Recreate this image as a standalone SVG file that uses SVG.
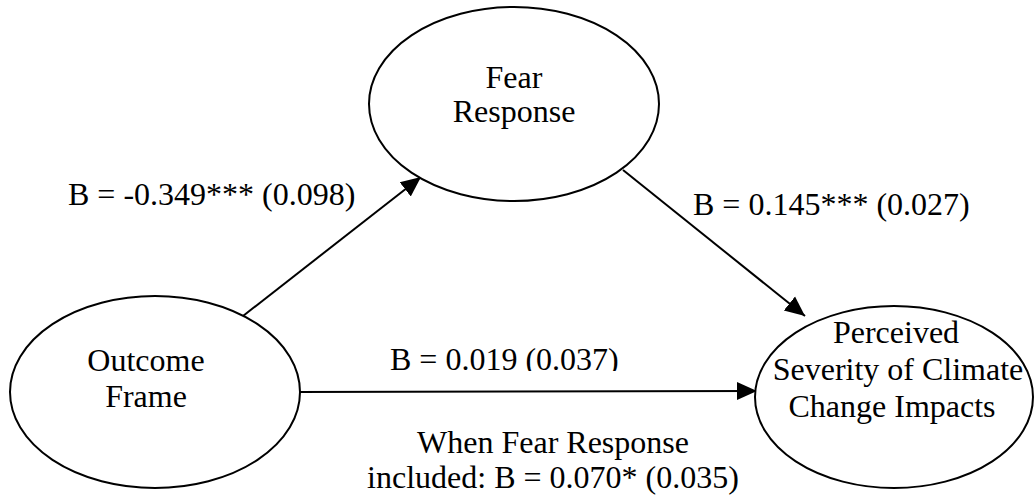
<svg xmlns="http://www.w3.org/2000/svg" width="1036" height="497" viewBox="0 0 1036 497">
<style>
  .node { fill: #ffffff; stroke: #000000; stroke-width: 2; }
  .lbl { font-family: "Liberation Serif", "Times New Roman", serif; font-size: 32px; fill: #000000; }
  .mid { text-anchor: middle; }
  .edge { stroke: #000000; stroke-width: 2; fill: none; marker-end: url(#arrow); }
</style>
<defs>
  <marker id="arrow" markerWidth="20" markerHeight="20" viewBox="0 0 20 20" refX="20" refY="10" orient="auto" markerUnits="userSpaceOnUse">
    <path d="M0,1 L20,10 L0,19 Z" fill="#000000"/>
  </marker>
  <clipPath id="clipB">
    <rect x="370" y="300" width="400" height="71"/>
  </clipPath>
</defs>
<rect width="1036" height="497" fill="#ffffff"/>
<g id="connectors">
  <line class="edge" x1="243" y1="316" x2="421" y2="177"/>
  <line class="edge" x1="623" y1="170" x2="805" y2="316"/>
  <line class="edge" x1="297" y1="392" x2="757" y2="391"/>
</g>
<g id="fear">
  <ellipse class="node" cx="514" cy="104" rx="145" ry="97"/>
  <text class="lbl mid" x="514" y="88">Fear</text>
  <text class="lbl mid" x="514" y="122">Response</text>
</g>
<g id="outcome">
  <ellipse class="node" cx="155" cy="392" rx="145" ry="96"/>
  <text class="lbl mid" x="146" y="371">Outcome</text>
  <text class="lbl mid" x="146" y="407">Frame</text>
</g>
<g id="perceived">
  <ellipse class="node" cx="894" cy="397" rx="139" ry="91"/>
  <text class="lbl mid" x="896" y="343">Perceived</text>
  <text class="lbl mid" x="898" y="380">Severity of Climate</text>
  <text class="lbl mid" x="892" y="417">Change Impacts</text>
</g>
<g id="labels">
  <text class="lbl" x="68" y="205">B = -0.349*** (0.098)</text>
  <text class="lbl" x="693" y="215">B = 0.145*** (0.027)</text>
  <text class="lbl" x="390" y="370" clip-path="url(#clipB)">B = 0.019 (0.037)</text>
  <text class="lbl mid" x="553" y="453">When Fear Response</text>
  <text class="lbl mid" x="553" y="488">included: B = 0.070* (0.035)</text>
</g>
</svg>
